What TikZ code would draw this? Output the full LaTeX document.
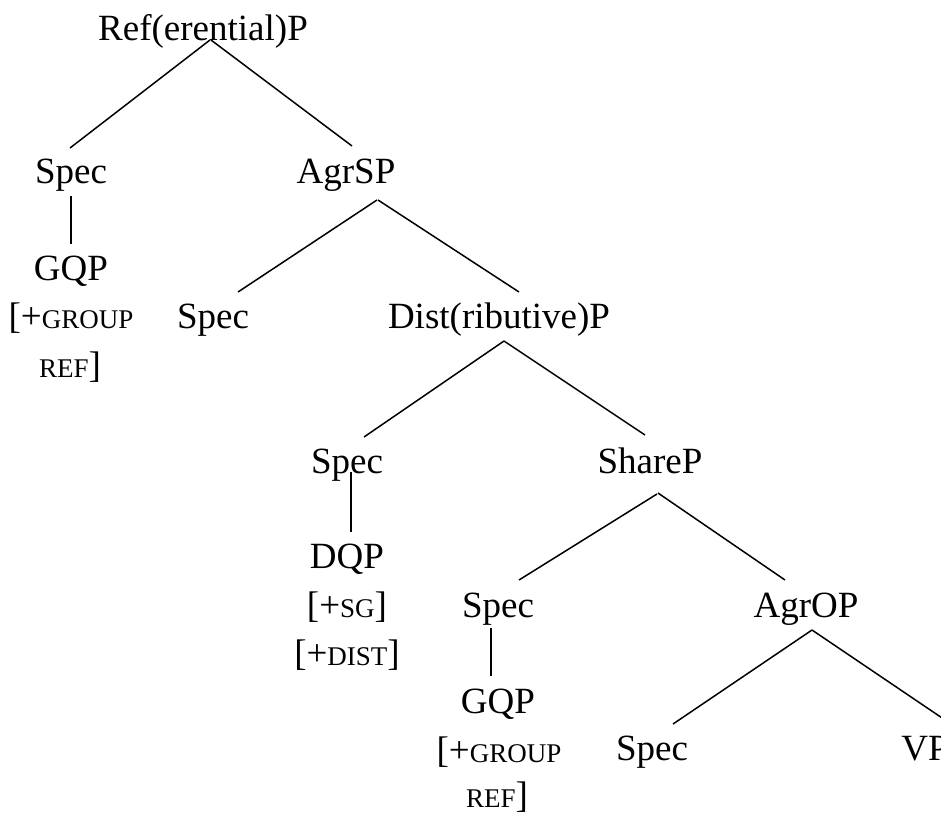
\documentclass[tikz,border=0pt]{standalone}
\usepackage{fontspec}
\setmainfont{Liberation Serif}
\newcommand{\fsc}[1]{{\fontsize{27}{30}\selectfont #1}}
\begin{document}
\begin{tikzpicture}[x=1pt,y=-1pt,
  lab/.style={anchor=base, inner sep=0pt, font=\fontsize{37}{48}\selectfont},
  edge/.style={line width=1.5pt}]
\useasboundingbox (0,0) rectangle (941,814);
% nodes
\node[lab] (ref)    at (203,40)  {Ref(erential)P};
\node[lab] (spec1)  at (71,183)  {Spec};
\node[lab] (agrsp)  at (346,183) {AgrSP};
\node[lab] (gqp1)   at (71,280)  {GQP};
\node[lab] (grp1a)  at (71,328)  {[+\fsc{GROUP}};
\node[lab] (grp1b)  at (70,377)  {\fsc{REF}]};
\node[lab] (spec2)  at (213,328) {Spec};
\node[lab] (dist)   at (499,328) {Dist(ributive)P};
\node[lab] (spec3)  at (347,473) {Spec};
\node[lab] (sharep) at (650,473) {ShareP};
\node[lab] (dqp)    at (347,568) {DQP};
\node[lab] (sg)     at (347,617) {[+\fsc{SG}]};
\node[lab] (distf)  at (347,665) {[+\fsc{DIST}]};
\node[lab] (spec4)  at (498,617) {Spec};
\node[lab] (agrop)  at (806,617) {AgrOP};
\node[lab] (gqp2)   at (498,713) {GQP};
\node[lab] (grp2a)  at (499,762) {[+\fsc{GROUP}};
\node[lab] (grp2b)  at (497,807) {\fsc{REF}]};
\node[lab] (spec5)  at (652,760) {Spec};
\node[lab] (vp)     at (925,760) {VP};
% connectors
\draw[edge] ([xshift=7pt]ref.base)    -- ([xshift=-1pt,yshift=35pt]spec1.base);
\draw[edge] ([xshift=8pt]ref.base)    -- ([xshift=6pt,yshift=37pt]agrsp.base);
\draw[edge] ([yshift=-13pt]spec1.base) -- ([yshift=36pt]gqp1.base);
\draw[edge] ([xshift=31pt,yshift=-17pt]agrsp.base) -- ([xshift=25pt,yshift=36pt]spec2.base);
\draw[edge] ([xshift=32pt,yshift=-17pt]agrsp.base) -- ([xshift=20pt,yshift=36pt]dist.base);
\draw[edge] ([xshift=5pt,yshift=-13pt]dist.base) -- ([xshift=17pt,yshift=36pt]spec3.base);
\draw[edge] ([xshift=5pt,yshift=-13pt]dist.base) -- ([xshift=-5pt,yshift=38pt]sharep.base);
\draw[edge] ([xshift=4pt,yshift=1pt]spec3.base) -- ([xshift=4pt,yshift=36pt]dqp.base);
\draw[edge] ([xshift=7pt,yshift=-21pt]sharep.base) -- ([xshift=21pt,yshift=37pt]spec4.base);
\draw[edge] ([xshift=8pt,yshift=-20pt]sharep.base) -- ([xshift=-21pt,yshift=37pt]agrop.base);
\draw[edge] ([xshift=-7pt,yshift=-11pt]spec4.base) -- ([xshift=-7pt,yshift=37pt]gqp2.base);
\draw[edge] ([xshift=6pt,yshift=-13pt]agrop.base) -- ([xshift=21pt,yshift=36pt]spec5.base);
\draw[edge] ([xshift=6pt,yshift=-13pt]agrop.base) -- ([xshift=26pt,yshift=36pt]vp.base);
\end{tikzpicture}
\end{document}
